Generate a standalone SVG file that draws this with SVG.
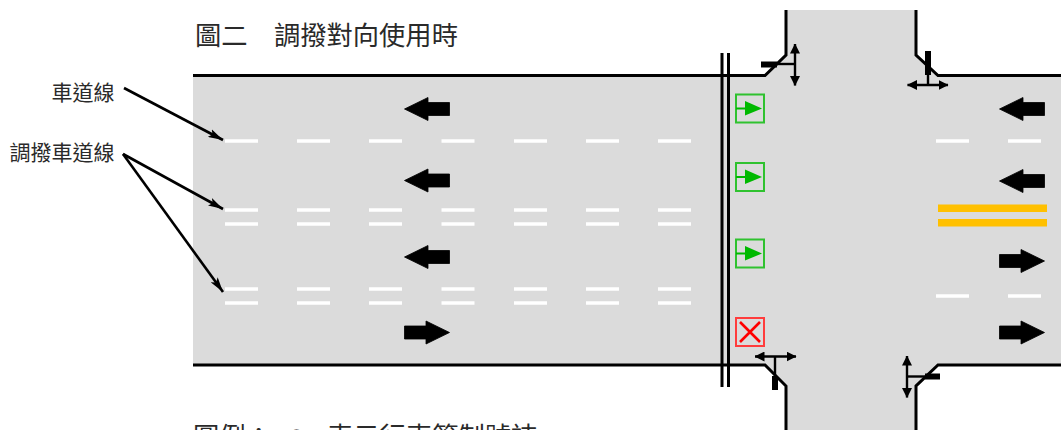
<svg xmlns="http://www.w3.org/2000/svg" xmlns:xlink="http://www.w3.org/1999/xlink" width="1061" height="430" viewBox="0 0 1061 430">
<style>
text{font-family:"Noto Sans CJK TC","Noto Sans CJK SC",sans-serif;fill:#2a2a2a;font-weight:400}
.t{font-size:26.3px}.l{font-size:21px;text-anchor:end}
.edge{fill:none;stroke:#000;stroke-width:3;stroke-linejoin:miter}
.thin{fill:none;stroke:#000;stroke-width:2.400}
.thick{fill:none;stroke:#000;stroke-width:6}
.leader{fill:none;stroke:#000;stroke-width:2.600}
.dash{fill:none;stroke:#fff;stroke-width:3.600}
.y{fill:#ffc000}
.gb{fill:none;stroke:#2fc22f;stroke-width:2}
.rb{fill:none;stroke:#ff3c3c;stroke-width:2}
.arr{fill:#000;stroke:#000;stroke-width:.8;stroke-linejoin:round}
</style>
<defs>
<path id="la" class="arr" d="M.5 0L24-11.500V-6.500H45.500V6.500H24V11.500Z"/>
<path id="ra" class="arr" d="M45.500 0L22-11.500V-6.500H.5V6.500H22V11.500Z"/>
<marker id="m" viewBox="0 0 14 8" refX="14" refY="4" markerWidth="15" markerHeight="9" markerUnits="userSpaceOnUse" orient="auto"><path d="M0 0L14 4L0 8L3 4Z" fill="#000"/></marker>
<marker id="h" viewBox="0 0 10 10" refX="9.500" refY="5" markerWidth="10" markerHeight="10" markerUnits="userSpaceOnUse" orient="auto-start-reverse"><path d="M0 0L10 5L0 10Z" fill="#000"/></marker>
<g id="dd"><path class="dash" d="M225 0h33M297 0h33M369 0h33M441.500 0h33M514 0h33M586 0h33M658 0h33"/></g>
<g id="gs"><rect class="gb" x="736" y="0" width="28" height="28"/><path d="M736 14H746" stroke="#00b900" stroke-width="2" fill="none"/><path d="M745 6.500L762 14L745 21Z" fill="#00b900"/></g>
</defs>
<g id="road">
<path d="M193 76H765L786 55V10H916V55L938 76H1061V365H938L916 386V430H786V386L765 365H193Z" fill="#dbdbdb"/>
<path class="edge" d="M193 75.500H765L786 55V10M916 10V55L938 75.500H1061M193 365H765L786 386V430M916 430V386L938 365H1061"/>
</g>
<g id="stop-line"><path class="edge" d="M722 53V387M728.500 53V387"/></g>
<g id="lane-lines">
<use xlink:href="#dd" y="141"/><use xlink:href="#dd" y="210"/><use xlink:href="#dd" y="224"/><use xlink:href="#dd" y="289"/><use xlink:href="#dd" y="303"/>
<path class="dash" d="M936 141h33M1008 141h33M936 296h33M1008 296h33"/>
<rect class="y" x="938" y="204.500" width="109" height="7.500"/><rect class="y" x="938" y="219" width="109" height="7.500"/>
</g>
<g id="road-arrows">
<use xlink:href="#la" x="404" y="109"/><use xlink:href="#la" x="404" y="180.500"/><use xlink:href="#la" x="404" y="257"/><use xlink:href="#ra" x="404" y="332.500"/>
<use xlink:href="#la" x="999" y="109"/><use xlink:href="#la" x="999" y="181"/><use xlink:href="#ra" x="999" y="261"/><use xlink:href="#ra" x="999" y="332.500"/>
</g>
<g id="lane-signal-1"><use xlink:href="#gs" y="94.500"/></g>
<g id="lane-signal-2"><use xlink:href="#gs" y="163"/></g>
<g id="lane-signal-3"><use xlink:href="#gs" y="239.500"/></g>
<g id="lane-signal-4"><rect class="rb" x="736" y="318" width="28" height="28"/><path d="M740 322L760 342M760 322L740 342" stroke="#f00" stroke-width="2.600" fill="none"/></g>
<g id="signal-nw"><path class="thick" d="M761 64.500H777"/><path class="thin" d="M777 64H795"/><path class="thin" d="M795 44V85.500" marker-start="url(#h)" marker-end="url(#h)"/></g>
<g id="signal-ne"><path class="thick" d="M928 51V75"/><path class="thin" d="M928 75V85"/><path class="thin" d="M907.500 85H948" marker-start="url(#h)" marker-end="url(#h)"/></g>
<g id="signal-sw"><path class="thick" d="M775 390V376"/><path class="thin" d="M775 376V356.500"/><path class="thin" d="M755 356.500H796" marker-start="url(#h)" marker-end="url(#h)"/></g>
<g id="signal-se"><path class="thick" d="M940 376.500H925"/><path class="thin" d="M925 376.500H907"/><path class="thin" d="M907 356V397.500" marker-start="url(#h)" marker-end="url(#h)"/></g>
<g id="connectors">
<path class="leader" d="M124 88L223 140" marker-end="url(#m)"/>
<path class="leader" d="M123 154L223 209" marker-end="url(#m)"/>
<path class="leader" d="M123 154L223 292" marker-end="url(#m)"/>
</g>
<g id="labels">
<text class="t" x="195" y="45">圖二　調撥對向使用時</text>
<text class="l" x="114.500" y="100">車道線</text>
<text class="l" x="114.500" y="160">調撥車道線</text>
<text class="t" x="193" y="446">圖例：</text>
<text x="288" y="444" style="font-size:17px">○</text>
<text class="t" x="327" y="446">表示行車管制號誌</text>
</g>
</svg>
